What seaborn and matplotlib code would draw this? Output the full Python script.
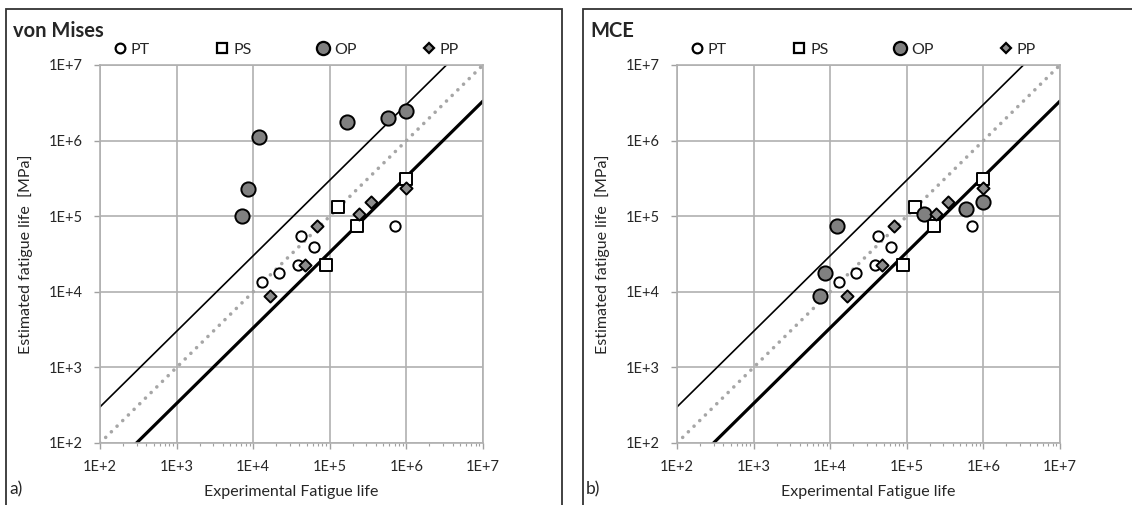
import numpy as np
import pandas as pd
import seaborn as sns
import matplotlib.pyplot as plt
from matplotlib.patches import Rectangle
from matplotlib.lines import Line2D
from matplotlib.ticker import LogLocator, FuncFormatter, NullFormatter

# data (experimental life, estimated life)
pt_exp = [1.3e4, 2.2e4, 3.8e4, 4.2e4, 6.2e4, 7.2e5]
pt_est = [1.35e4, 1.78e4, 2.25e4, 5.5e4, 3.9e4, 7.4e4]
ps_exp = [8.9e4, 1.27e5, 2.24e5, 1.0e6]
ps_est = [2.25e4, 1.32e5, 7.4e4, 3.1e5]
pp_exp = [1.66e4, 4.7e4, 6.9e4, 2.4e5, 3.5e5, 1.0e6]
pp_est = [8.8e3, 2.25e4, 7.4e4, 1.07e5, 1.55e5, 2.35e5]
op_exp_vm = [7.1e3, 8.5e3, 1.18e4, 1.66e5, 5.7e5, 1.0e6]
op_est_vm = [1.0e5, 2.3e5, 1.12e6, 1.77e6, 2.0e6, 2.45e6]
op_exp_mce = [7.4e3, 8.6e3, 1.22e4, 1.7e5, 5.9e5, 1.0e6]
op_est_mce = [8.7e3, 1.8e4, 7.5e4, 1.07e5, 1.23e5, 1.55e5]

band = 3  # scatter band factor
line_x = [1e2, 1e7]

sns.set_style("whitegrid")
plt.rcParams['font.family'] = ['Lato', 'DejaVu Sans']

styles = {
    "PT": dict(marker="o", s=55, color="white"),
    "PS": dict(marker="s", s=70, color="white"),
    "OP": dict(marker="o", s=105, color="#808080"),
    "PP": dict(marker="D", s=38, color="#8c8c8c"),
}

fig = plt.figure(figsize=(11.32, 5.05), dpi=100)
W, H = 1132, 505


def panel(left_px, title, tag, op_x, op_y):
    ax = fig.add_axes([left_px / W, 1 - 443 / H, 383 / W, 378 / H])
    ax.set_xscale("log")
    ax.set_yscale("log")
    ax.set_xlim(1e2, 1e7)
    ax.set_ylim(1e2, 1e7)

    lx = np.array(line_x)
    ax.plot(lx, lx, color="#a6a6a6", lw=2.6, ls=(0, (0.01, 2.2)),
            dash_capstyle="round", zorder=2)
    ax.plot(lx, lx * band, color="black", lw=1.2, zorder=2)
    ax.plot(lx, lx / band, color="black", lw=2.3, zorder=2)

    groups = [("PT", pt_exp, pt_est), ("PS", ps_exp, ps_est),
              ("OP", op_x, op_y), ("PP", pp_exp, pp_est)]
    for name, x, y in groups:
        st = styles[name]
        sns.scatterplot(x=x, y=y, ax=ax, marker=st["marker"], s=st["s"],
                        color=st["color"], edgecolor="black", linewidth=1.4,
                        zorder=3, clip_on=False)

    ax.xaxis.set_major_locator(LogLocator(base=10, numticks=10))
    ax.yaxis.set_major_locator(LogLocator(base=10, numticks=10))
    ax.xaxis.set_minor_locator(LogLocator(base=10, subs=np.arange(2, 10), numticks=20))
    ax.yaxis.set_minor_locator(LogLocator(base=10, subs=[], numticks=20))
    fmt = FuncFormatter(lambda v, p: "1E+%d" % int(round(np.log10(v))))
    ax.xaxis.set_major_formatter(fmt)
    ax.yaxis.set_major_formatter(fmt)
    ax.xaxis.set_minor_formatter(NullFormatter())
    ax.grid(True, which="major", color="#b0b0b0", lw=1.2)
    ax.grid(False, which="minor")
    ax.tick_params(axis="both", which="major", direction="out", length=4.5,
                   width=1, color="#a0a0a0", labelsize=10.5, pad=8,
                   bottom=True, left=True)
    ax.tick_params(axis="x", which="minor", direction="out", length=2.5,
                   width=0.8, color="#a0a0a0", bottom=True)
    ax.tick_params(axis="y", which="minor", left=False)
    for sp in ax.spines.values():
        sp.set_color("#b0b0b0")
        sp.set_linewidth(1.2)

    ax.set_xlabel("Experimental Fatigue life", fontsize=11.5, labelpad=8)
    ax.set_ylabel("Estimated fatigue life  [MPa]", fontsize=11.5, labelpad=11)

    handles = [Line2D([], [], ls="none", marker="o", ms=7, mfc="white", mec="black", mew=1.6, label="PT"),
               Line2D([], [], ls="none", marker="s", ms=7, mfc="white", mec="black", mew=1.6, label="PS"),
               Line2D([], [], ls="none", marker="o", ms=9.5, mfc="#808080", mec="black", mew=1.6, label="OP"),
               Line2D([], [], ls="none", marker="D", ms=5.5, mfc="#8c8c8c", mec="black", mew=1.6, label="PP")]
    ax.legend(handles=handles, loc="center left", bbox_to_anchor=(0.018, 1.040),
              ncol=4, frameon=False, fontsize=11.5, handlelength=0.8,
              handletextpad=0.3, columnspacing=4.1, borderaxespad=0)

    frame_left = left_px - 94
    fig.add_artist(Rectangle((frame_left / W, -0.05), (556 if left_px < 300 else 600) / W,
                             1.05 - 9 / H, transform=fig.transFigure, fill=False,
                             edgecolor="#333333", lw=1.3, clip_on=False))
    fig.text((frame_left + 7) / W, 1 - 21 / H, title, fontsize=14.5, fontweight="bold", va="top")
    fig.text((frame_left + 3) / W, 1 - 494 / H, tag, fontsize=12.5, va="baseline")
    return ax


panel(100, "von Mises", "a)", op_exp_vm, op_est_vm)
panel(677, "MCE", "b)", op_exp_mce, op_est_mce)

fig.savefig("out.png", dpi=100)
